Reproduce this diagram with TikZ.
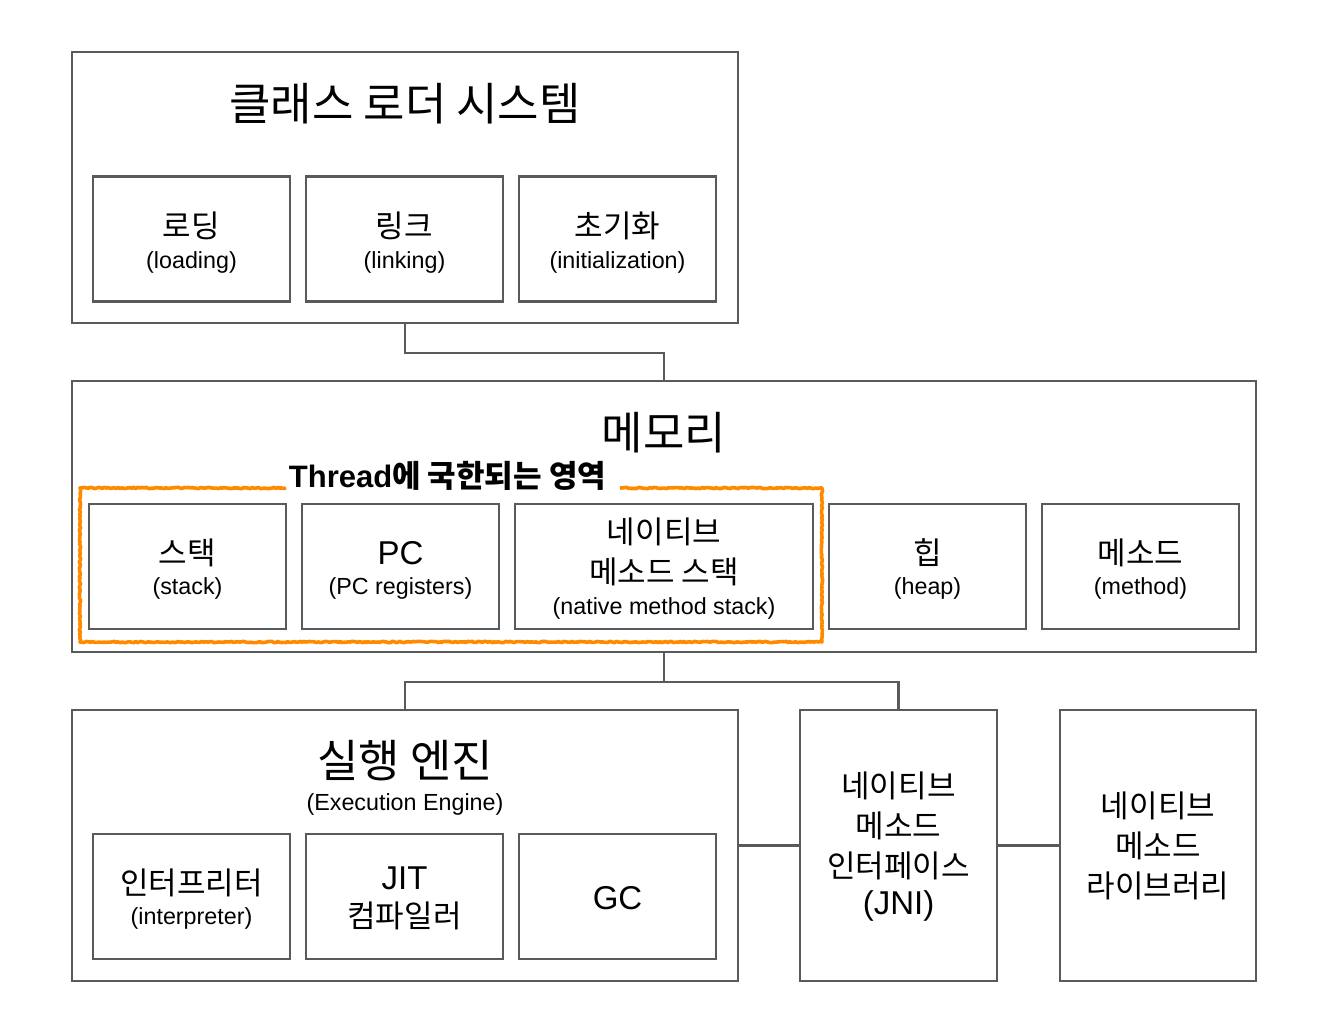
\documentclass[tikz,border=0pt]{standalone}
\usepackage{fontspec}
\setmainfont{Liberation Sans}
\newfontfamily\kr{Noto Sans CJK KR}
\usetikzlibrary{calc,decorations.pathmorphing}
\definecolor{boxgray}{HTML}{5A5A5A}
\definecolor{throrange}{HTML}{FF8A00}
\begin{document}
\begin{tikzpicture}[x=1pt,y=-1pt,
  box/.style={draw=boxgray, line width=2.2pt, inner sep=0pt, rectangle, fill=none},
  bigbox/.style={box, minimum width=666pt, minimum height=271pt},
  subbox/.style={box, minimum width=197pt, minimum height=125pt},
  conn/.style={draw=boxgray, line width=2.2pt},
  ktitle/.style={font=\kr\fontsize{45}{54}\selectfont, inner sep=0pt},
  klab/.style={font=\kr\fontsize{31}{37}\selectfont, inner sep=0pt},
  llab/.style={font=\fontsize{33}{40}\selectfont, inner sep=0pt},
  slab/.style={font=\fontsize{23.3}{28}\selectfont, inner sep=0pt},
  thr/.style={draw=throrange, line width=3.6pt, line join=round,
    decorate, decoration={random steps, segment length=2pt, amplitude=0.7pt}}]
\useasboundingbox (0,0) rectangle (1342,1034);
\fill[white] (0,0) rectangle (1342,1034);

% Class loader system
\node[bigbox] (cl) at (405,187.5) {};
\node[ktitle] (clt) at (405,104) {클래스 로더 시스템};
\node[subbox] (ld) at (191.5,239) {};
\node[klab] (ldk) at (191.5,226) {로딩};
\node[slab] (ldl) at (191.5,262) {(loading)};
\node[subbox] (lk) at (404.5,239) {};
\node[klab] (lkk) at (404.5,226) {링크};
\node[slab] (lkl) at (404.5,262) {(linking)};
\node[subbox] (in) at (617.5,239) {};
\node[klab] (ink) at (617.5,226) {초기화};
\node[slab] (inl) at (617.5,262) {(initialization)};

% Memory
\node[box, minimum width=1184pt, minimum height=271pt] (mem) at (664,516.5) {};
\node[ktitle] (memt) at (664,433) {메모리};
\node[subbox] (st) at (187.5,566.5) {};
\node[klab] (stk) at (187.5,553) {스택};
\node[slab] (stl) at (187.5,588) {(stack)};
\node[subbox] (pc) at (400.5,566.5) {};
\node[llab] (pck) at (400.5,553) {PC};
\node[slab] (pcl) at (400.5,588) {(PC registers)};
\node[box, minimum width=298pt, minimum height=125pt] (nms) at (664,566.5) {};
\node[klab] (nms1) at (664,532) {네이티브};
\node[klab] (nms2) at (664,572) {메소드 스택};
\node[slab] (nms3) at (664,608) {(native method stack)};
\node[subbox] (hp) at (927.5,566.5) {};
\node[klab] (hpk) at (927.5,553) {힙};
\node[slab] (hpl) at (927.5,588) {(heap)};
\node[subbox] (mt) at (1140.5,566.5) {};
\node[klab] (mtk) at (1140.5,553) {메소드};
\node[slab] (mtl) at (1140.5,588) {(method)};

% Thread-local region
\draw[thr] (286,488) -- (80,488) -- (80,642) -- (822,642) -- (822,488) -- (620,488);
\node[font=\bfseries\fontsize{31}{37}\selectfont, inner sep=0pt] (thrl) at (447.5,476) {Thread{\kr 에 국한되는 영역}};

% Execution engine
\node[bigbox] (ex) at (405,845.5) {};
\node[ktitle] (ext) at (405,761) {실행 엔진};
\node[slab] (exl) at (405,804) {(Execution Engine)};
\node[subbox] (ip) at (191.5,896.5) {};
\node[klab] (ipk) at (191.5,883) {인터프리터};
\node[slab] (ipl) at (191.5,918) {(interpreter)};
\node[subbox] (jit) at (404.5,896.5) {};
\node[llab] (jitk) at (404.5,878) {JIT};
\node[klab] (jitl) at (404.5,916) {컴파일러};
\node[subbox] (gc) at (617.5,896.5) {};
\node[llab] (gck) at (617.5,898) {GC};

% JNI
\node[box, minimum width=197pt, minimum height=271pt] (jni) at (898.5,845.5) {};
\node[klab] (jni1) at (898.5,786) {네이티브};
\node[klab] (jni2) at (898.5,826) {메소드};
\node[klab] (jni3) at (898.5,866) {인터페이스};
\node[llab] (jni4) at (898.5,906) {(JNI)};

% Native library
\node[box, minimum width=196pt, minimum height=271pt] (lib) at (1158,845.5) {};
\node[klab] (lib1) at (1158,806) {네이티브};
\node[klab] (lib2) at (1158,846) {메소드};
\node[klab] (lib3) at (1158,886) {라이브러리};

% Connectors
\draw[conn] (cl.south) -- ++(0,29) -| (mem.north);
\coordinate (j) at ($(mem.south)+(0,29)$);
\draw[conn] (mem.south) -- (j);
\draw[conn] (ex.north) |- (j) -| (jni.north);
\draw[conn] (ex.east) -- (jni.west);
\draw[conn] (jni.east) -- (lib.west);
\end{tikzpicture}
\end{document}
